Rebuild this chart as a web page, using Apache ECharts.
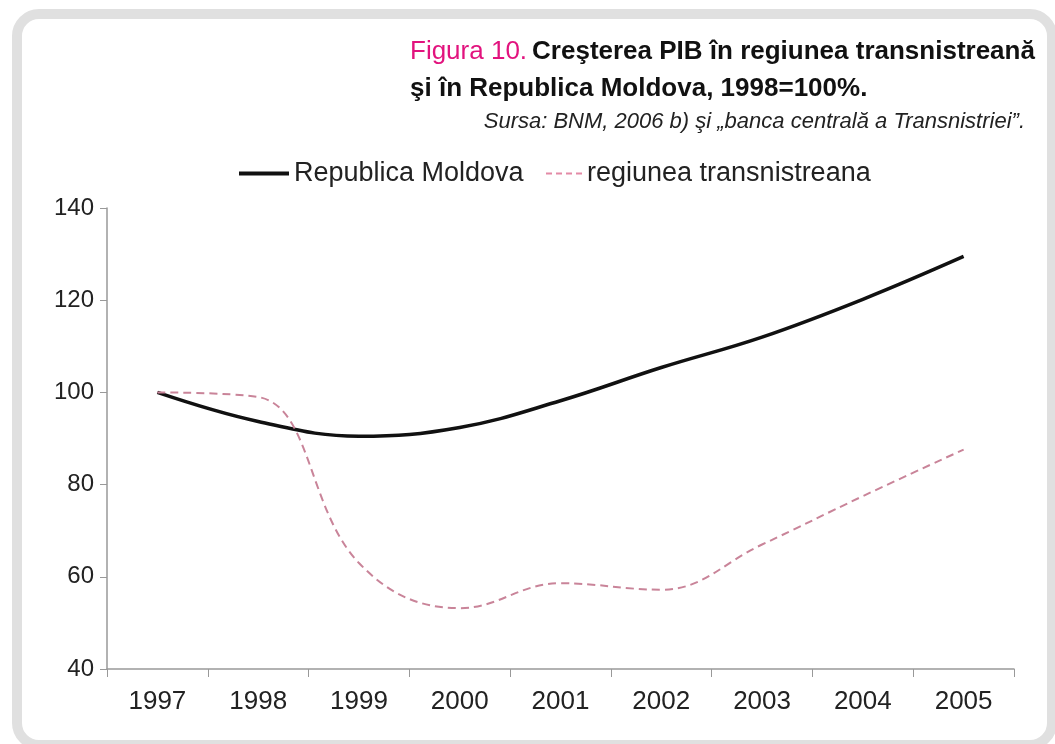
<!DOCTYPE html>
<html>
<head>
<meta charset="utf-8">
<script src="https://cdn.jsdelivr.net/npm/echarts@6/dist/echarts.min.js"></script>
<style>
  html, body { margin: 0; padding: 0; background: #fff; }
  #chart { width: 1055px; height: 744px; }
</style>
</head>
<body>
<div id="chart"></div>
<script>
var years = ['1997', '1998', '1999', '2000', '2001', '2002', '2003', '2004', '2005'];
var moldova = [100, 93.7, 90.5, 92.4, 98.2, 105.4, 112, 120.2, 129.5];
var transnistria = [100, 99, 63, 53.2, 58.6, 57.2, 67, 77.5, 87.6];

var dom = document.getElementById('chart');
var myChart = echarts.init(dom);
var font = "'Liberation Sans', Arial, sans-serif";

var option = {
	animation: false,
	graphic: [{
		type: 'rect',
		shape: { x: 17, y: 14, width: 1035, height: 731, r: 22 },
		style: { fill: 'none', stroke: '#e0e0e0', lineWidth: 10 },
		z: -1
	}],
	title: [{
		left: 405,
		top: 28,
		text: '{a|Figura 10.} {b|Creşterea PIB în regiunea transnistreană}\n{b|şi în Republica Moldova, 1998=100%.}',
		textStyle: {
			fontFamily: font,
			lineHeight: 37,
			rich: {
				a: { color: '#e2137e', fontSize: 26, fontWeight: 'normal', fontFamily: font, lineHeight: 37 },
				b: { color: '#111', fontSize: 26, fontWeight: 'bold', fontFamily: font, lineHeight: 37 }
			}
		}
	}, {
		right: 25,
		top: 106,
		text: 'Sursa: BNM, 2006 b) şi „banca centrală a Transnistriei”.',
		textStyle: { fontFamily: font, fontSize: 22, fontStyle: 'italic', fontWeight: 'normal', color: '#222' }
	}],
	legend: [{
		left: 232,
		top: 155,
		itemWidth: 50,
		itemHeight: 14,
		itemGap: 6,
		data: ['Republica Moldova'],
		itemStyle: { opacity: 0 },
		lineStyle: { width: 4, color: '#111' },
		textStyle: { fontFamily: font, fontSize: 27, color: '#222' }
	}, {
		left: 540,
		top: 155,
		itemWidth: 36,
		itemHeight: 14,
		data: ['regiunea transnistreana'],
		itemStyle: { opacity: 0 },
		lineStyle: { width: 2, color: '#e38aa6', type: [6, 4] },
		textStyle: { fontFamily: font, fontSize: 27, color: '#222' }
	}],
	grid: {
		left: 107,
		right: 41,
		top: 208,
		bottom: 75
	},
	xAxis: {
		type: 'category',
		data: years,
		boundaryGap: true,
		axisLine: { show: true, lineStyle: { color: '#999', width: 1.5 } },
		axisTick: { show: true, length: 8, lineStyle: { color: '#999' } },
		axisLabel: { fontFamily: font, fontSize: 26, color: '#222', margin: 20 }
	},
	yAxis: {
		type: 'value',
		min: 40,
		max: 140,
		interval: 20,
		axisLine: { show: true, lineStyle: { color: '#999', width: 1.5 } },
		axisTick: { show: true, length: 7, lineStyle: { color: '#999' } },
		axisLabel: { fontFamily: font, fontSize: 24, color: '#222', margin: 13 },
		splitLine: { show: false }
	},
	series: [{
		name: 'Republica Moldova',
		type: 'line',
		smooth: 0.4,
		symbol: 'none',
		data: moldova,
		itemStyle: { color: '#111' },
		lineStyle: { color: '#111', width: 3.5 }
	}, {
		name: 'regiunea transnistreana',
		type: 'line',
		smooth: 0.4,
		symbol: 'none',
		data: transnistria,
		itemStyle: { color: '#d98aa3' },
		lineStyle: { color: '#c98499', width: 2, type: [8, 5] }
	}]
};
myChart.setOption(option);
</script>
</body>
</html>
